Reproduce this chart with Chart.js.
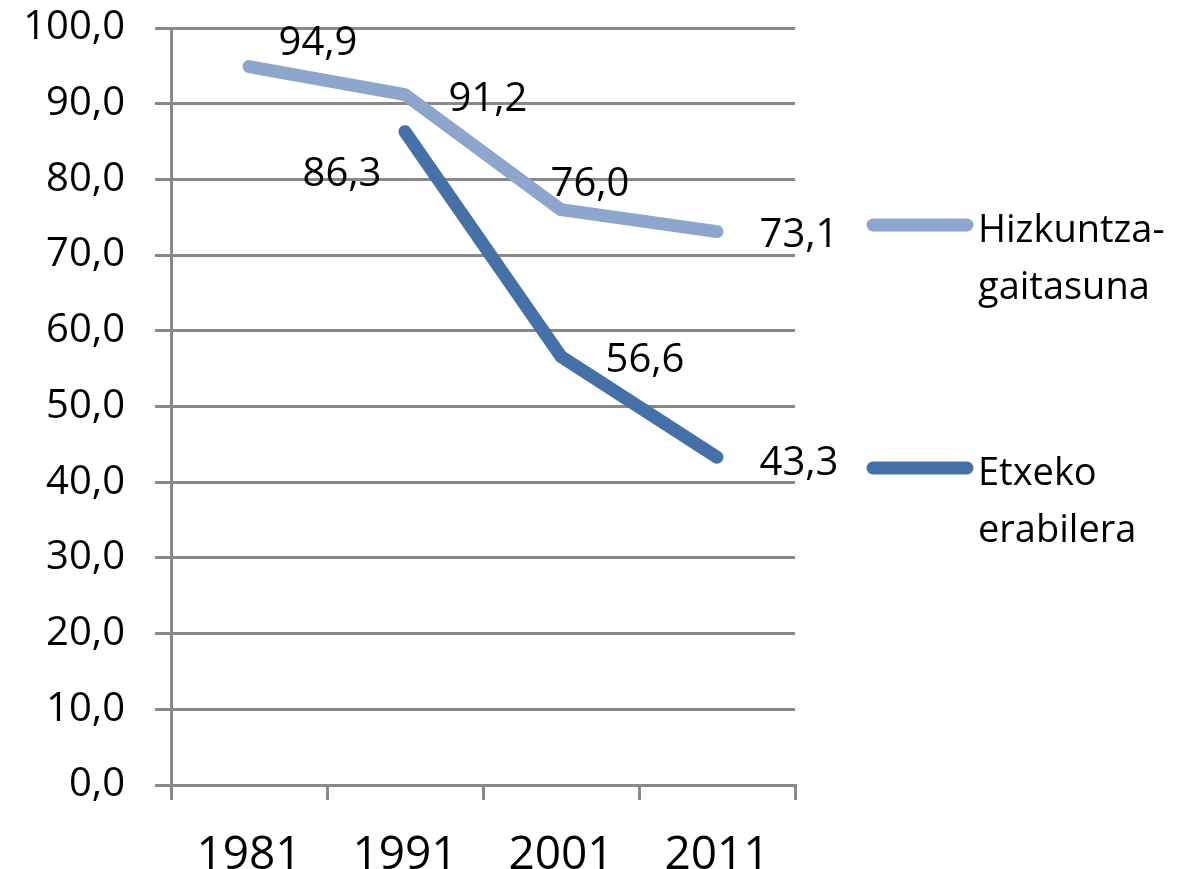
<!DOCTYPE html>
<html>
<head>
<meta charset="utf-8">
<script src="https://cdn.jsdelivr.net/npm/chart.js@4/dist/chart.umd.min.js"></script>
<style>
  html, body { margin: 0; padding: 0; background: #fff; }
  #wrap { width: 1182px; height: 869px; }
</style>
</head>
<body>
<div id="wrap"><canvas id="linechart"></canvas></div>
<script>
// data
const years = ['1981', '1991', '2001', '2011'];
const gaitasuna = [94.9, 91.2, 76.0, 73.1];
const erabilera = [null, 86.3, 56.6, 43.3];
const yTicks = [0, 10, 20, 30, 40, 50, 60, 70, 80, 90, 100];
const legendNames = [['Hizkuntza-', 'gaitasuna'], ['Etxeko', 'erabilera']];

const lightBlue = 'rgb(142, 166, 205)';
const darkBlue = 'rgb(69, 112, 168)';
const gray = 'rgb(137, 137, 137)';

// label offsets from the point (px), like excel placed them
const labelShift = [
  [[69, -23], [83, 5], [29, -25], [82, 4]],
  [null, [-63, 43], [84, 4], [82, 6]]
];

const valueLabels = {
  id: 'valueLabels',
  afterDatasetsDraw(chart) {
    const c = chart.ctx;
    c.save();
    c.font = '40px "Open Sans"';
    c.fillStyle = '#000';
    c.textAlign = 'center';
    c.textBaseline = 'middle';
    chart.data.datasets.forEach((ds, i) => {
      chart.getDatasetMeta(i).data.forEach((pt, j) => {
        const v = ds.data[j];
        if (v == null) return;
        const s = labelShift[i][j];
        c.fillText(v.toFixed(1).replace('.', ','), pt.x + s[0], pt.y + s[1]);
      });
    });
    c.restore();
  }
};

const sideLegend = {
  id: 'sideLegend',
  afterDraw(chart) {
    const c = chart.ctx;
    const colors = [lightBlue, darkBlue];
    const rows = [225, 468];
    c.save();
    c.font = '38px "Open Sans"';
    c.fillStyle = '#000';
    c.textBaseline = 'alphabetic';
    legendNames.forEach((lines, i) => {
      const y = rows[i];
      c.strokeStyle = colors[i];
      c.lineWidth = 13;
      c.lineCap = 'round';
      c.beginPath();
      c.moveTo(873, y);
      c.lineTo(967, y);
      c.stroke();
      lines.forEach((t, k) => c.fillText(t, 978, y + 17 + k * 57));
    });
    c.restore();
  }
};

new Chart(document.getElementById('linechart'), {
  type: 'line',
  data: {
    labels: years,
    datasets: [{
      label: 'Hizkuntza-gaitasuna',
      data: gaitasuna,
      borderColor: lightBlue,
      borderWidth: 13,
      borderCapStyle: 'round',
      borderJoinStyle: 'round',
      pointRadius: 0,
      tension: 0
    }, {
      label: 'Etxeko erabilera',
      data: erabilera,
      borderColor: darkBlue,
      borderWidth: 13,
      borderCapStyle: 'round',
      borderJoinStyle: 'round',
      pointRadius: 0,
      tension: 0
    }]
  },
  options: {
    responsive: true,
    maintainAspectRatio: false,
    animation: false,
    layout: { padding: { top: 28, right: 387, left: 0, bottom: 0 } },
    plugins: {
      legend: { display: false },
      tooltip: { enabled: false }
    },
    scales: {
      x: {
        offset: true,
        grid: {
          offset: true,
          drawOnChartArea: false,
          color: gray,
          lineWidth: 3,
          tickLength: 15
        },
        border: { color: gray, width: 3 },
        ticks: {
          color: '#000',
          padding: 28,
          font: { family: '"Liberation Sans Narrow", "Open Sans"', size: 46 }
        },
        afterFit(s) { s.height = 84; }
      },
      y: {
        min: 0,
        max: 100,
        afterBuildTicks(s) { s.ticks = yTicks.map(v => ({ value: v })); },
        grid: { color: gray, lineWidth: 3, tickLength: 16 },
        border: { color: gray, width: 3 },
        ticks: {
          color: '#000',
          padding: 30,
          font: { family: '"Open Sans"', size: 40 },
          callback: v => v.toFixed(1).replace('.', ',')
        },
        afterFit(s) { s.width = 171; s.paddingTop = 0; s.paddingBottom = 0; }
      }
    }
  },
  plugins: [valueLabels, sideLegend]
});
</script>
</body>
</html>
